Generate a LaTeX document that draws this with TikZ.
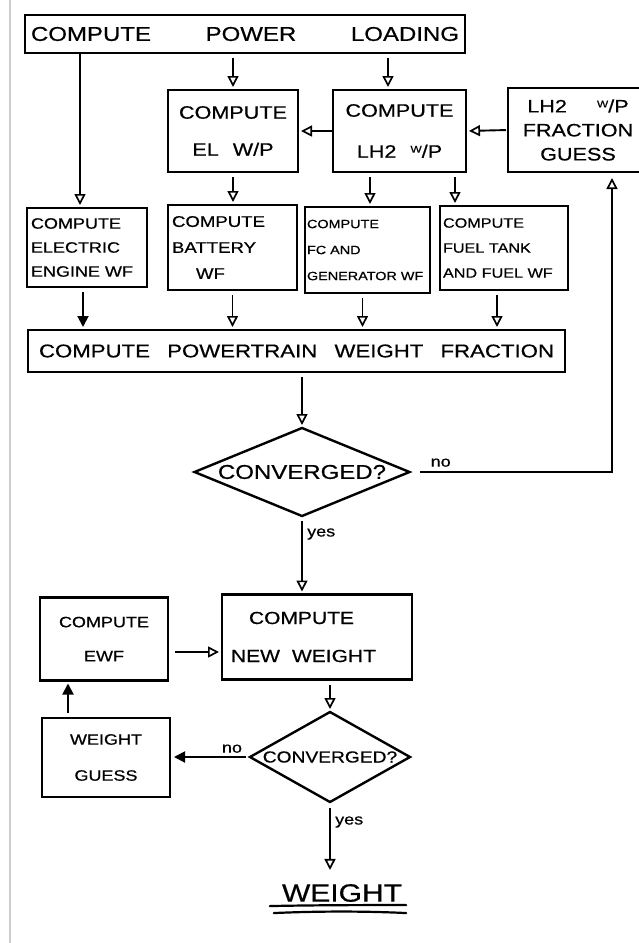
\documentclass[tikz,border=0pt]{standalone}
\usepackage{fontspec}
\setmainfont{Liberation Sans}[FakeStretch=1.2, FakeBold=0.6]
\usetikzlibrary{arrows.meta,shapes.geometric}
\newcommand\WoverP{{\raisebox{5pt}{\fontsize{10}{10}\selectfont W}/P}}
\newcommand\fs[2]{\fontsize{#1}{#2}\selectfont}
\tikzset{
  box/.style={draw, line width=2.4pt, inner sep=0pt, outer sep=0pt},
  dia/.style={draw, diamond, line width=2.4pt, inner sep=0pt, outer sep=0pt},
  flow/.style={line width=1.9pt, shorten <=5pt, shorten >=3pt,
    -{Triangle[open, length=11pt, width=11pt, line width=1.7pt]}},
  flowfill/.style={line width=1.9pt, shorten <=5pt, shorten >=3pt,
    -{Triangle[length=11pt, width=11pt]}},
  lbl/.style={font=\fs{15}{15}, inner sep=1pt},
}
\begin{document}
\begin{tikzpicture}[x=1pt, y=-1pt]
\useasboundingbox (0,0) rectangle (639,943);
% page edge rule on the left
\draw[gray!40, line width=1.2pt] (10,0) -- (10,943);

% --- boxes ---
\node[box, minimum height=38pt, text width=428pt, inner xsep=6pt, font=\fs{20}{20}]
  (top) at (245,34) {COMPUTE\hfill POWER\hfill LOADING};
\node[box, minimum width=130pt, minimum height=82pt, align=center, font=\fs{18}{20}]
  (el) at (233,131) {COMPUTE\\[17pt]EL\hspace{14pt}W/P};
\node[box, minimum width=133pt, minimum height=82pt, align=center, font=\fs{18}{20}]
  (lh2) at (399.5,131) {COMPUTE\\[21pt]LH2\hspace{14pt}\WoverP};
\node[box, minimum width=140pt, minimum height=84pt, align=center, font=\fs{18}{24}]
  (guess) at (578,130) {LH2\hspace{30pt}\WoverP\\FRACTION\\GUESS};

\node[box, minimum width=120pt, minimum height=79pt, text width=112pt, inner xsep=4pt,
  align=left, font=\fs{15}{24}]
  (elec) at (87,247.5) {COMPUTE\\ELECTRIC\\ENGINE WF};
\node[box, minimum width=129pt, minimum height=85pt, text width=121pt, inner xsep=4pt,
  align=left, font=\fs{15.5}{26}]
  (bat) at (232.5,247.5) {COMPUTE\\BATTERY\\\hspace*{24pt}WF};
\node[box, minimum width=125pt, minimum height=86pt, text width=121pt, inner xsep=2pt,
  align=left, font=\fs{12}{26}]
  (fc) at (367.5,250) {COMPUTE\\FC AND\\GENERATOR WF};
\node[box, minimum width=128pt, minimum height=84pt, text width=122pt, inner xsep=3pt,
  align=left, font=\fs{13.5}{25}]
  (fuel) at (504,248) {COMPUTE\\FUEL TANK\\AND FUEL WF};

\node[box, minimum height=42pt, text width=515pt, inner xsep=11pt, font=\fs{18.5}{18.5}]
  (pt) at (296.5,351) {COMPUTE\hfill POWERTRAIN\hfill WEIGHT\hfill FRACTION};

\node[dia, minimum width=215pt, minimum height=88pt] (d1) at (302,472) {};
\node[font=\fs{20}{20}, inner sep=0pt] (d1t) at (d1) {CONVERGED?};

\node[box, minimum width=128pt, minimum height=83pt, align=center, font=\fs{15}{34}]
  (ewf) at (104,639) {COMPUTE\\EWF};
\node[box, minimum width=190pt, minimum height=85pt, text width=172pt, inner xsep=9pt,
  align=left, font=\fs{17.5}{38}]
  (nw) at (317,637) {\hspace*{18pt}COMPUTE\\NEW\hspace{12pt}WEIGHT};

\node[dia, minimum width=160pt, minimum height=90pt] (d2) at (330,757) {};
\node[font=\fs{16}{16}, inner sep=0pt] (d2t) at (d2) {CONVERGED?};

\node[box, minimum width=128pt, minimum height=79pt, align=center, font=\fs{15}{36}]
  (wg) at (106,757.5) {WEIGHT\\GUESS};

\node[font=\fs{25}{25}, inner sep=2pt] (w) at (342,893) {WEIGHT};
\draw[line width=2.2pt, line cap=round] ([xshift=-10pt,yshift=-2pt]w.south west)
  .. controls ([xshift=40pt,yshift=-1pt]w.south west) and ([xshift=-40pt,yshift=-1pt]w.south east) ..
  ([xshift=2pt,yshift=-1pt]w.south east);
\draw[line width=2.2pt, line cap=round] ([xshift=-6pt,yshift=-9pt]w.south west)
  .. controls ([xshift=40pt,yshift=-7pt]w.south west) and ([xshift=-40pt,yshift=-7pt]w.south east) ..
  ([xshift=2pt,yshift=-9pt]w.south east);

% --- connectors ---
\coordinate (c1) at ([xshift=-165pt]top.south);
\draw[flow, shorten <=0pt] (c1) -- (c1 |- elec.north);
\draw[flow] (top.south -| el.north) -- (el.north);
\coordinate (c3) at ([xshift=143pt]top.south);
\draw[flow] (c3) -- (c3 |- lh2.north);
\draw[flow, shorten <=0pt] (lh2.west) -- (el.east);
\draw[flow, shorten <=2pt] (guess.west) -- (lh2.east);

\draw[flow] (el.south) -- (el.south |- bat.north);
\coordinate (c7) at ([xshift=-29.5pt]lh2.south);
\draw[flow] (c7) -- (c7 |- fc.north);
\coordinate (c8) at ([xshift=55.5pt]lh2.south);
\draw[flow] (c8) -- (c8 |- fuel.north);

\coordinate (c9) at ([xshift=-4pt]elec.south);
\draw[flowfill] (c9) -- (c9 |- pt.north);
\draw[flow] (bat.south) -- (bat.south |- pt.north);
\coordinate (c11) at ([xshift=-5pt]fc.south);
\draw[flow] (c11) -- (c11 |- pt.north);
\coordinate (c12) at ([xshift=-7pt]fuel.south);
\draw[flow] (c12) -- (c12 |- pt.north);

\draw[flow] (pt.south -| d1.north) -- (d1.north);

\coordinate (gx) at ([xshift=34pt]guess.south);
\draw[flow, shorten <=10pt, shorten >=6pt] (d1.east) -- (gx |- d1.east) -- (gx);
\node[lbl, anchor=south west] (no1) at ([xshift=20pt,yshift=4pt]d1.east) {no};

\draw[flow] (d1.south) -- (d1.south |- nw.north);
\node[lbl, anchor=west] (yes1) at ([xshift=4pt,yshift=-18pt]d1.south) {yes};

\coordinate (c16) at ([yshift=-13pt]ewf.east);
\draw[flow, shorten <=7pt] (c16) -- (c16 -| nw.west);

\draw[flow] (nw.south -| d2.north) -- (d2.north);
\draw[flowfill, shorten <=4pt, shorten >=4pt] (d2.west) -- (d2.west -| wg.east);
\node[lbl, anchor=south] (no2) at ([xshift=-18pt,yshift=3pt]d2.west) {no};

\coordinate (c19) at ([xshift=-38pt]wg.north);
\draw[flowfill] (c19) -- (c19 |- ewf.south);

\draw[flow, shorten <=6pt, shorten >=12pt] (d2.south) -- (d2.south |- w.north);
\node[lbl, anchor=west] (yes2) at ([xshift=4pt,yshift=-20pt]d2.south) {yes};
\end{tikzpicture}
\end{document}
